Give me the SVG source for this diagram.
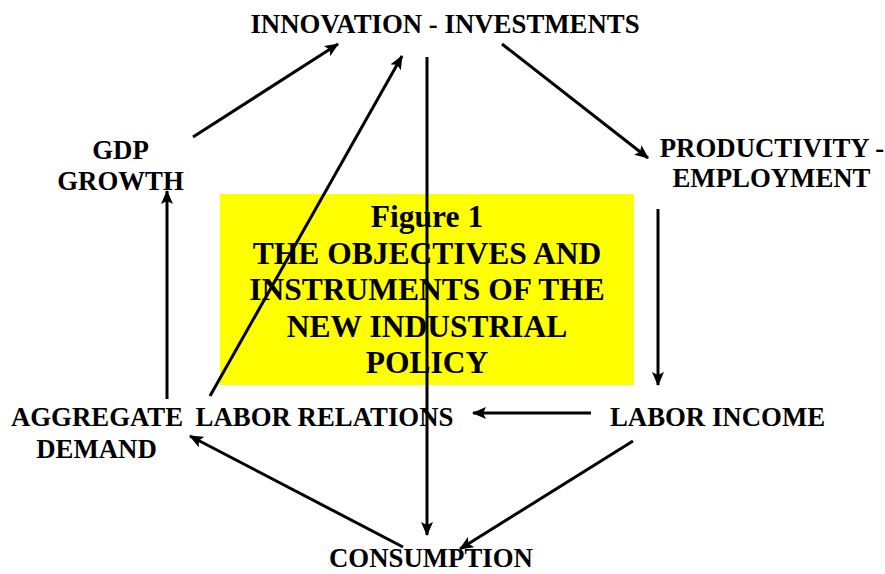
<svg xmlns="http://www.w3.org/2000/svg" width="885" height="574" viewBox="0 0 885 574">
<style>
.t{font-family:"Liberation Serif","Times New Roman",serif;font-weight:bold;font-size:26.8px;fill:#000;text-anchor:middle}
.title{font-size:31.5px}
.c{stroke:#000;stroke-width:3;fill:none;marker-end:url(#ah)}
</style>
<defs>
<marker id="ah" markerUnits="userSpaceOnUse" viewBox="0 0 14 12" markerWidth="14" markerHeight="12" refX="13" refY="6" orient="auto">
<path d="M0,0 L14,6 L0,12 L3,6 Z" fill="#000"/>
</marker>
</defs>
<rect width="885" height="574" fill="#fff"/>
<g id="title-box">
<rect x="220" y="194" width="414" height="191" fill="#ffff00"/>
<text class="t title" x="427" y="227">Figure 1</text>
<text class="t title" x="427" y="263.5">THE OBJECTIVES AND</text>
<text class="t title" x="427" y="300">INSTRUMENTS OF THE</text>
<text class="t title" x="427" y="336.5">NEW INDUSTRIAL</text>
<text class="t title" x="427" y="373">POLICY</text>
</g>
<g id="connectors">
<line class="c" x1="193" y1="137" x2="338" y2="44"/>
<line class="c" x1="210" y1="396" x2="402" y2="56"/>
<line class="c" x1="427" y1="57" x2="427" y2="535"/>
<line class="c" x1="502" y1="44" x2="648" y2="158"/>
<line class="c" x1="658" y1="209" x2="658" y2="385"/>
<line class="c" x1="591" y1="413" x2="473" y2="413"/>
<line class="c" x1="633" y1="441" x2="460" y2="549"/>
<line class="c" x1="403" y1="547" x2="190" y2="436"/>
<line class="c" x1="167" y1="399" x2="167" y2="191"/>
</g>
<g id="innovation"><text class="t" x="445" y="33">INNOVATION - INVESTMENTS</text></g>
<g id="productivity"><text class="t" x="772" y="157">PRODUCTIVITY -</text><text class="t" x="771.5" y="187">EMPLOYMENT</text></g>
<g id="gdp"><text class="t" x="120.5" y="159">GDP</text><text class="t" x="120.5" y="190">GROWTH</text></g>
<g id="aggregate-demand"><text class="t" x="97" y="426">AGGREGATE</text><text class="t" x="96.5" y="458">DEMAND</text></g>
<g id="labor-relations"><text class="t" x="324.5" y="426">LABOR RELATIONS</text></g>
<g id="labor-income"><text class="t" x="717.5" y="426">LABOR INCOME</text></g>
<g id="consumption"><text class="t" x="431" y="567">CONSUMPTION</text></g>
</svg>
